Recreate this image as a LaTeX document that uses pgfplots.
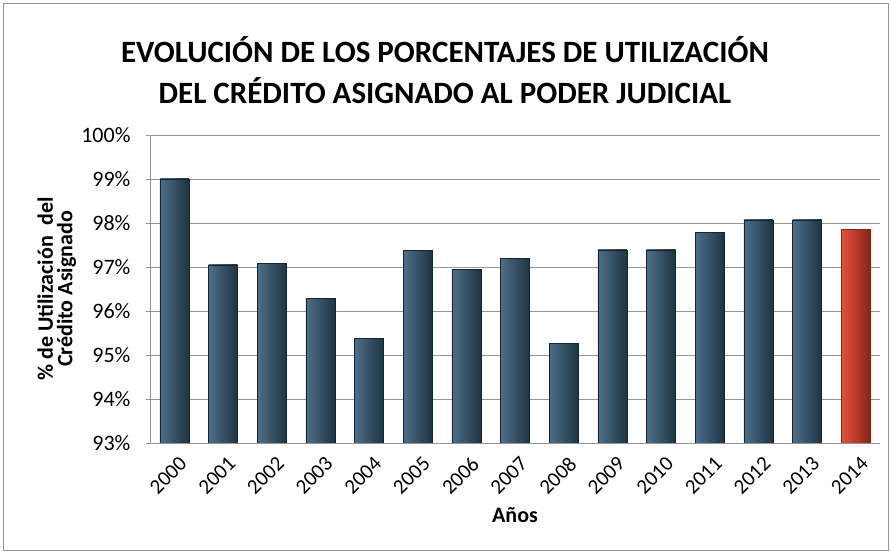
\documentclass[border=0pt]{standalone}
\usepackage{pgfplots}
\pgfplotsset{compat=1.18}
\usepackage{fontspec}
\setmainfont{Carlito}
\definecolor{bL}{RGB}{78,110,138}
\definecolor{bM}{RGB}{56,86,110}
\definecolor{bR}{RGB}{30,52,64}
\definecolor{rL}{RGB}{232,80,60}
\definecolor{rM}{RGB}{210,58,40}
\definecolor{rR}{RGB}{130,38,24}
\definecolor{gridc}{RGB}{150,150,150}
\pgfplotsset{
  bbar/.style={ybar, bar shift=0pt, draw=bR!70!black, line width=0.5pt, left color=bL, middle color=bM, right color=bR},
  rbar/.style={ybar, bar shift=0pt, draw=rR, line width=0.5pt, left color=rL, middle color=rM, right color=rR},
}
\begin{document}
\begin{tikzpicture}[x=1pt,y=1pt]
\path[use as bounding box] (0,0) rectangle (891,553);
\draw[color=gridc,line width=0.8pt] (3,3) rectangle (888,550);
\node[font=\fontsize{31}{41}\selectfont\bfseries,align=center] at (445,483) {EVOLUCIÓN DE LOS PORCENTAJES DE UTILIZACIÓN\\DEL CRÉDITO ASIGNADO AL PODER JUDICIAL};
\begin{axis}[
  at={(150pt,110pt)}, anchor=south west,
  width=730pt, height=308pt, scale only axis,
  xmin=-0.5, xmax=14.5, ymin=93, ymax=100,
  ytick={93,94,95,96,97,98,99,100},
  yticklabel={\pgfmathprintnumber{\tick}\%},
  xtick={0,...,14},
  xticklabels={2000,2001,2002,2003,2004,2005,2006,2007,2008,2009,2010,2011,2012,2013,2014},
  x tick label style={font=\fontsize{21}{24}\selectfont,xshift=4pt,yshift=-7pt,rotate=45,anchor=north east,inner sep=1pt},
  y tick label style={font=\fontsize{22}{24}\selectfont,xshift=-12pt},
  /pgf/number format/assume math mode=true,
  axis x line*=bottom, axis y line*=left,
  axis line style={gridc,line width=0.8pt},
  ymajorgrids, grid style={gridc,line width=0.8pt},
  xtick style={draw=none},
  ytick style={gridc,line width=0.8pt},
  tick align=outside, major tick length=4pt,
  xlabel={\bfseries Años},
  xlabel style={font=\fontsize{22}{24}\selectfont,yshift=-6pt},
  ylabel={\bfseries\begin{tabular}{@{}c@{}}\% de Utilización\hspace{0.25em} del\\[-2pt]Crédito Asignado\end{tabular}},
  ylabel style={font=\fontsize{22}{20}\selectfont,yshift=-4pt},
  bar width=29pt,
]
\addplot[bbar] coordinates {(0,99.00)};
\addplot[bbar] coordinates {(1,97.05)};
\addplot[bbar] coordinates {(2,97.08)};
\addplot[bbar] coordinates {(3,96.28)};
\addplot[bbar] coordinates {(4,95.37)};
\addplot[bbar] coordinates {(5,97.38)};
\addplot[bbar] coordinates {(6,96.95)};
\addplot[bbar] coordinates {(7,97.19)};
\addplot[bbar] coordinates {(8,95.26)};
\addplot[bbar] coordinates {(9,97.39)};
\addplot[bbar] coordinates {(10,97.39)};
\addplot[bbar] coordinates {(11,97.78)};
\addplot[bbar] coordinates {(12,98.07)};
\addplot[bbar] coordinates {(13,98.07)};
\addplot[rbar] coordinates {(14,97.86)};
\end{axis}
\end{tikzpicture}
\end{document}
